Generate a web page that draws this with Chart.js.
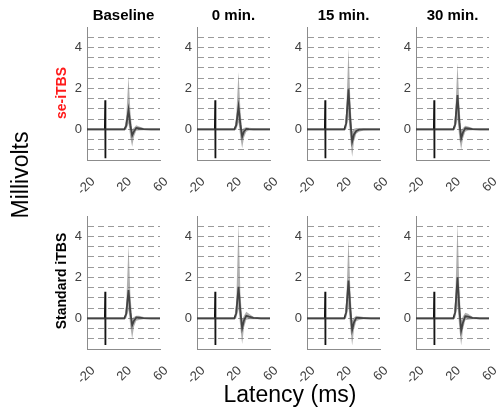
<!DOCTYPE html>
<html>
<head>
<meta charset="utf-8">
<script src="https://cdn.jsdelivr.net/npm/chart.js@4.4.0/dist/chart.umd.min.js"></script>
<style>
  html, body { margin: 0; padding: 0; background: #fff; }
  #wrap { position: relative; width: 503px; height: 417px; overflow: hidden;
          font-family: "Liberation Sans", Arial, sans-serif; }
  #wrap canvas { position: absolute; }
  .lbl { position: absolute; white-space: nowrap; line-height: 1; transform: translate(-50%, -50%); }
  .title { font-weight: bold; font-size: 15px; color: #000; }
  .rot { transform: translate(-50%, -50%) rotate(-90deg); }
  .group { font-weight: bold; font-size: 14px; }
  .axis { font-size: 23px; color: #000; }
</style>
</head>
<body>
<div id="wrap"></div>
<script>
// sample times (ms) shared by every trace; 0 is the stimulus artifact
var latency = [-20, -0.4, 0, 0, 0.4, 21, 23, 25.5, 27.5, 29.5, 31.5, 34, 37, 42, 50, 60];

var timepoints = ['Baseline', '0 min.', '15 min.', '30 min.'];
var groups = ['se-iTBS', 'Standard iTBS'];
var xTicks = [-20, 20, 60];
var yTicks = [0, 2, 4];

// se-iTBS: mean MEP and the grey range around it, one row per timepoint
var seMean = [
  [0, 0, 1.42, -1.42, 0, 0, 0.18, 0.95, 0.2, -0.3, -0.1, 0.06, 0.04, 0.01, 0, 0],
  [0, 0, 1.42, -1.42, 0, 0, 0.2, 1.1, 0.25, -0.36, -0.1, 0.02, 0.01, 0, 0, 0],
  [0, 0, 1.42, -1.42, 0, 0, 0.3, 1.95, 0.4, -0.6, -0.25, -0.08, -0.02, 0, 0, 0],
  [0, 0, 1.42, -1.42, 0, 0, 0.25, 1.67, 0.35, -0.44, -0.15, 0.05, 0.04, 0.01, 0, 0]
];
var seUpper = [
  [0.04, 0.04, 1.42, -1.42, 0.04, 0.04, 0.6, 2.6, 0.9, 0, 0.08, 0.2, 0.14, 0.06, 0.04, 0.04],
  [0.04, 0.04, 1.42, -1.42, 0.04, 0.04, 0.65, 2.8, 1.0, 0, 0.07, 0.1, 0.08, 0.05, 0.04, 0.04],
  [0.04, 0.04, 1.42, -1.42, 0.04, 0.04, 0.9, 4.0, 1.4, -0.1, 0.03, 0.07, 0.06, 0.05, 0.04, 0.04],
  [0.04, 0.04, 1.42, -1.42, 0.04, 0.04, 0.8, 3.25, 1.2, -0.05, 0.07, 0.17, 0.14, 0.06, 0.04, 0.04]
];
var seLower = [
  [-0.04, -0.04, 1.42, -1.42, -0.04, -0.04, -0.02, 0.3, -0.4, -0.85, -0.35, -0.07, -0.06, -0.05, -0.04, -0.04],
  [-0.04, -0.04, 1.42, -1.42, -0.04, -0.04, -0.02, 0.35, -0.4, -0.92, -0.4, -0.12, -0.06, -0.05, -0.04, -0.04],
  [-0.04, -0.04, 1.42, -1.42, -0.04, -0.04, 0.03, 0.6, -0.5, -1.34, -0.6, -0.22, -0.12, -0.06, -0.04, -0.04],
  [-0.04, -0.04, 1.42, -1.42, -0.04, -0.04, 0.03, 0.5, -0.45, -1.0, -0.45, -0.12, -0.06, -0.05, -0.04, -0.04]
];

// standard iTBS
var stdMean = [
  [0, 0, 1.3, -1.3, 0, 0, 0.22, 1.38, 0.3, -0.34, -0.12, 0.04, 0.03, 0.01, 0, 0],
  [0, 0, 1.3, -1.3, 0, 0, 0.25, 1.54, 0.35, -0.48, -0.1, 0.12, 0.08, 0.02, 0, 0],
  [0, 0, 1.3, -1.3, 0, 0, 0.3, 1.84, 0.4, -0.56, -0.2, 0.02, 0.02, 0.01, 0, 0],
  [0, 0, 1.3, -1.3, 0, 0, 0.3, 2.0, 0.45, -0.6, -0.2, 0.1, 0.08, 0.02, 0, 0]
];
var stdUpper = [
  [0.04, 0.04, 1.3, -1.3, 0.04, 0.04, 0.7, 3.6, 1.2, 0, 0.07, 0.12, 0.12, 0.06, 0.04, 0.04],
  [0.04, 0.04, 1.3, -1.3, 0.04, 0.04, 0.8, 4.66, 1.3, -0.05, 0.12, 0.32, 0.22, 0.07, 0.04, 0.04],
  [0.04, 0.04, 1.3, -1.3, 0.04, 0.04, 0.9, 3.9, 1.4, -0.1, 0.04, 0.12, 0.1, 0.06, 0.04, 0.04],
  [0.04, 0.04, 1.3, -1.3, 0.04, 0.04, 0.95, 4.66, 1.5, -0.1, 0.1, 0.27, 0.22, 0.07, 0.04, 0.04]
];
var stdLower = [
  [-0.04, -0.04, 1.3, -1.3, -0.04, -0.04, 0, 0.4, -0.4, -1.0, -0.4, -0.12, -0.08, -0.05, -0.04, -0.04],
  [-0.04, -0.04, 1.3, -1.3, -0.04, -0.04, 0, 0.45, -0.45, -1.25, -0.45, -0.07, -0.05, -0.05, -0.04, -0.04],
  [-0.04, -0.04, 1.3, -1.3, -0.04, -0.04, 0.03, 0.55, -0.5, -1.33, -0.55, -0.14, -0.08, -0.05, -0.04, -0.04],
  [-0.04, -0.04, 1.3, -1.3, -0.04, -0.04, 0.03, 0.6, -0.5, -1.33, -0.55, -0.1, -0.07, -0.05, -0.04, -0.04]
];

// layout of the 2x4 grid (pixels)
var colX = [87, 197, 307, 416];
var rowTop = [27, 216];
var plotW = 73, plotH = 133;
var padL = 45, padT = 8, padR = 8, padB = 45;

Chart.defaults.font.family = '"Liberation Sans", Arial, sans-serif';

var wrap = document.getElementById('wrap');

function pts(values) {
  return latency.map(function(x, i) { return {x: x, y: values[i]}; });
}

function addLabel(text, cls, x, y, color) {
  var d = document.createElement('div');
  d.className = 'lbl ' + cls;
  d.textContent = text;
  d.style.left = x + 'px';
  d.style.top = y + 'px';
  if (color) d.style.color = color;
  wrap.appendChild(d);
}

function makePanel(row, col, mean, upper, lower) {
  var c = document.createElement('canvas');
  c.width = padL + plotW + padR;
  c.height = padT + plotH + padB;
  c.style.left = (colX[col] - padL) + 'px';
  c.style.top = (rowTop[row] - padT) + 'px';
  wrap.appendChild(c);

  return new Chart(c.getContext('2d'), {
    type: 'line',
    data: {
      datasets: [
        {data: pts(upper), fill: '+1', backgroundColor: 'rgba(110,110,110,0.55)', borderWidth: 0, pointRadius: 0},
        {data: pts(lower), fill: false, borderWidth: 0, pointRadius: 0},
        {data: pts(mean), fill: false, borderColor: '#111', borderWidth: 1.8, pointRadius: 0}
      ]
    },
    options: {
      responsive: false,
      animation: false,
      events: [],
      layout: {padding: {left: 0, top: padT, right: padR, bottom: 0}},
      plugins: {legend: {display: false}, tooltip: {enabled: false}},
      scales: {
        x: {
          type: 'linear', min: -20, max: 60,
          grid: {display: false},
          border: {display: true, color: '#8c8c8c'},
          ticks: {
            stepSize: 40, autoSkip: false, minRotation: 45, maxRotation: 45,
            padding: 6, labelOffset: 6, color: '#404040', font: {size: 13},
            callback: function(v) { return xTicks.indexOf(v) >= 0 ? String(v) : ''; }
          },
          afterFit: function(s) { s.height = padB; s.paddingLeft = 0; s.paddingRight = 0; }
        },
        y: {
          min: -1.5, max: 5,
          grid: {
            drawTicks: false,
            color: function(ctx) {
              var v = ctx.tick ? ctx.tick.value : 0;
              return (v <= -1.5 || v >= 5) ? 'rgba(0,0,0,0)' : '#9a9a9a';
            }
          },
          border: {display: true, color: '#8c8c8c', dash: [6, 4]},
          ticks: {
            stepSize: 0.5, autoSkip: false, padding: 5, color: '#404040', font: {size: 13},
            callback: function(v) { return yTicks.indexOf(v) >= 0 ? String(v) : ''; }
          },
          afterFit: function(s) { s.width = padL; s.paddingTop = 0; s.paddingBottom = 0; }
        }
      }
    }
  });
}

var means = [seMean, stdMean], uppers = [seUpper, stdUpper], lowers = [seLower, stdLower];
for (var r = 0; r < groups.length; r++) {
  for (var k = 0; k < timepoints.length; k++) {
    makePanel(r, k, means[r][k], uppers[r][k], lowers[r][k]);
  }
}

// text around the grid
timepoints.forEach(function(t, k) { addLabel(t, 'title', colX[k] + plotW / 2, 13.5); });
addLabel(groups[0], 'group rot', 61, 93, '#ff1a1a');
addLabel(groups[1], 'group rot', 61, 281, '#000');
addLabel('Millivolts', 'axis rot', 19.5, 175, '#000');
addLabel('Latency (ms)', 'axis', 290, 394);
</script>
</body>
</html>
